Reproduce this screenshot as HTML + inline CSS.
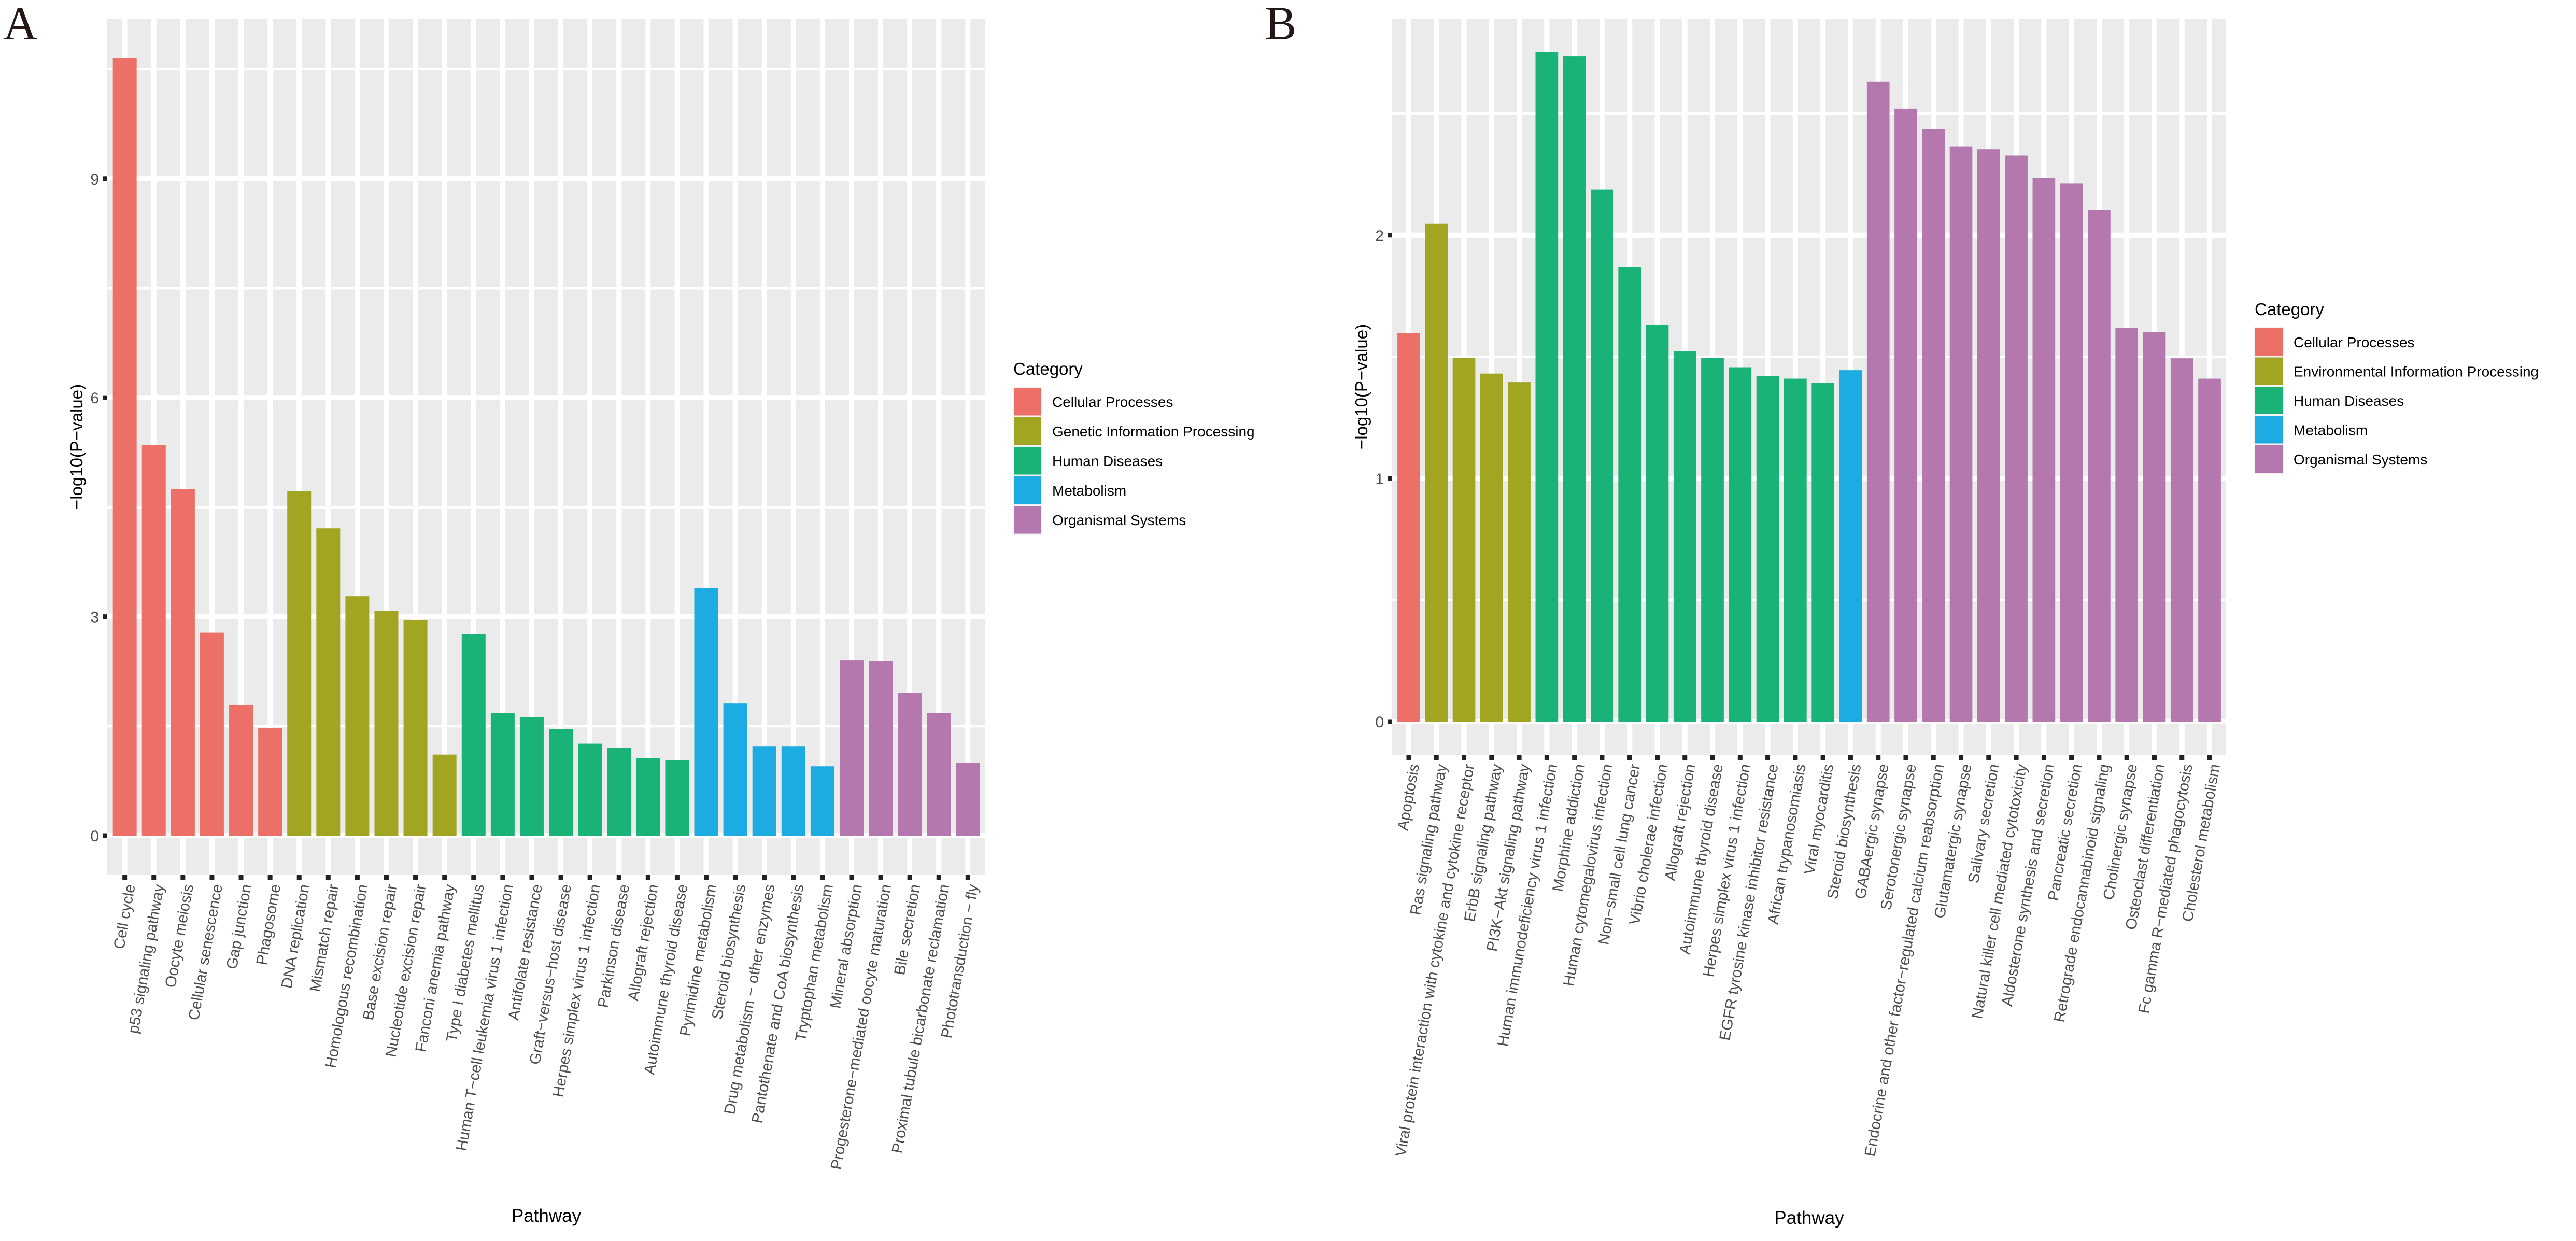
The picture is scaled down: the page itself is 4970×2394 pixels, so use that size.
<!DOCTYPE html>
<html><head><meta charset="utf-8"><style>
html,body{margin:0;padding:0;background:#fff;}
svg{display:block;font-family:"Liberation Sans",Arial,sans-serif;}
</style></head><body>
<svg id="fig" width="4970" height="2394" viewBox="0 0 4970 2394" xmlns="http://www.w3.org/2000/svg">
<rect x="0" y="0" width="4970" height="2394" fill="#fff"/>
<text x="6" y="76" font-family="Liberation Serif, serif" font-size="92" fill="#231815">A</text>
<text x="2440" y="76" font-family="Liberation Serif, serif" font-size="92" fill="#231815">B</text>
<g id="chartA"></g>
<g id="chartB"></g>
</svg>
<script>
const categoryNames = ["Cellular Processes","Genetic Information Processing","Human Diseases","Metabolism","Organismal Systems"];
const categoryNamesB = ["Cellular Processes","Environmental Information Processing","Human Diseases","Metabolism","Organismal Systems"];
const categoryColors = ["#EC7068","#A2A521","#19B277","#1DACE2","#B477AE"];

const pathwaysA = ["Cell cycle","p53 signaling pathway","Oocyte meiosis","Cellular senescence","Gap junction","Phagosome","DNA replication","Mismatch repair","Homologous recombination","Base excision repair","Nucleotide excision repair","Fanconi anemia pathway","Type I diabetes mellitus","Human T\u2212cell leukemia virus 1 infection","Antifolate resistance","Graft\u2212versus\u2212host disease","Herpes simplex virus 1 infection","Parkinson disease","Allograft rejection","Autoimmune thyroid disease","Pyrimidine metabolism","Steroid biosynthesis","Drug metabolism \u2212 other enzymes","Pantothenate and CoA biosynthesis","Tryptophan metabolism","Mineral absorption","Progesterone\u2212mediated oocyte maturation","Bile secretion","Proximal tubule bicarbonate reclamation","Phototransduction \u2212 fly"];
const valuesA = [10.66,5.35,4.75,2.78,1.79,1.47,4.72,4.21,3.28,3.08,2.95,1.11,2.76,1.68,1.62,1.46,1.26,1.20,1.06,1.03,3.39,1.81,1.22,1.22,0.95,2.40,2.39,1.96,1.68,1.00];
const catIdxA = [0,0,0,0,0,0,1,1,1,1,1,1,2,2,2,2,2,2,2,2,3,3,3,3,3,4,4,4,4,4];
const ticksA = [0,3,6,9];
const minorA = [1.5,4.5,7.5,10.5];

const pathwaysB = ["Apoptosis","Ras signaling pathway","Viral protein interaction with cytokine and cytokine receptor","ErbB signaling pathway","PI3K\u2212Akt signaling pathway","Human immunodeficiency virus 1 infection","Morphine addiction","Human cytomegalovirus infection","Non\u2212small cell lung cancer","Vibrio cholerae infection","Allograft rejection","Autoimmune thyroid disease","Herpes simplex virus 1 infection","EGFR tyrosine kinase inhibitor resistance","African trypanosomiasis","Viral myocarditis","Steroid biosynthesis","GABAergic synapse","Serotonergic synapse","Endocrine and other factor\u2212regulated calcium reabsorption","Glutamatergic synapse","Salivary secretion","Natural killer cell mediated cytotoxicity","Aldosterone synthesis and secretion","Pancreatic secretion","Retrograde endocannabinoid signaling","Cholinergic synapse","Osteoclast differentiation","Fc gamma R\u2212mediated phagocytosis","Cholesterol metabolism"];
const valuesB = [1.598,2.047,1.496,1.431,1.396,2.753,2.737,2.188,1.869,1.633,1.522,1.496,1.457,1.420,1.410,1.392,1.445,2.631,2.520,2.437,2.365,2.353,2.329,2.235,2.214,2.104,1.620,1.602,1.494,1.410];
const catIdxB = [0,1,1,1,1,2,2,2,2,2,2,2,2,2,2,2,3,4,4,4,4,4,4,4,4,4,4,4,4,4];
const ticksB = [0,1,2];
const minorB = [0.5,1.5,2.5];

const NS = "http://www.w3.org/2000/svg";
function mk(parent, tag, attrs, text){
  const e = document.createElementNS(NS, tag);
  for (const k in attrs) e.setAttribute(k, attrs[k]);
  if (text !== undefined) e.textContent = text;
  parent.appendChild(e);
  return e;
}

function drawChart(g, cfg, names, vals, cats, ticks, minor, legendNames, prefix){
  const L = cfg.left, R = cfg.right, T = cfg.top, y0 = cfg.zero, B = cfg.bottom;
  const n = names.length;
  const step = (R - L) / (n + 0.2);
  const xScale = i => L + step * (0.6 + i);
  const vmax = Math.max.apply(null, vals);
  const unit = (y0 - T) / (vmax * 1.05);
  const yScale = v => y0 - v * unit;
  const bw = step * 0.82;

  const bg = mk(g, "rect", {x:L, y:T, width:R-L, height:B-T, fill:"#EBEBEB"});
  
  

  minor.forEach(v => {
    const y = yScale(v);
    if (y < T || y > B) return;
    const l = mk(g, "rect", {x:L, y:y-2.5, width:R-L, height:5, fill:"#fff"});
    
    
  });
  ticks.forEach(v => {
    const y = yScale(v);
    const l = mk(g, "rect", {x:L, y:y-5, width:R-L, height:10, fill:"#fff"});
    
    
  });
  names.forEach((nm, i) => {
    const x = xScale(i);
    const l = mk(g, "rect", {x:x-5, y:T, width:10, height:B-T, fill:"#fff"});
    
    
  });
  vals.forEach((v, i) => {
    const x = xScale(i);
    const b = mk(g, "rect", {x:x-bw/2, y:yScale(v), width:bw, height:y0-yScale(v), fill:categoryColors[cats[i]]});
    
    
  });
  // y ticks
  ticks.forEach(v => {
    const y = yScale(v);
    const t = mk(g, "rect", {x:L-9, y:y-4.5, width:9, height:9, fill:"#222"});
    
    
    const lb = mk(g, "text", {x:L-16, y:y+11, "font-size":30, fill:"#4D4D4D", "text-anchor":"end"}, String(v));
    
    
  });
  // x ticks
  names.forEach((nm, i) => {
    const x = xScale(i);
    const t = mk(g, "rect", {x:x-4.5, y:B, width:9, height:10, fill:"#222"});
    
    
    const ax = x + 10, ay = B + 18;
    const lb = mk(g, "text", {x:0, y:0, dy:"0.35em", "font-size":29.5, fill:"#4D4D4D", "text-anchor":"end",
      transform:"translate(" + ax + "," + ay + ") rotate(-80)"}, nm);
    
    
  });
  // axis titles
  const yt = mk(g, "text", {x:0, y:0, "font-size":33, fill:"#000", "text-anchor":"middle",
    transform:"translate(" + (L-48) + "," + ((T+B)/2) + ") rotate(-90)"}, "\u2212log10(P\u2212value)");
  
  
  const xt = mk(g, "text", {x:(L+R)/2, y:cfg.xTitleY, "font-size":35, fill:"#000", "text-anchor":"middle"}, "Pathway");
  
  
  // legend
  const lg = mk(g, "g", {});
  
  
  const lt = mk(lg, "text", {x:cfg.legX-1, y:cfg.legTitleY, "font-size":33, fill:"#000"}, "Category");
  
  
  mk(lg, "rect", {x:cfg.legX-2, y:cfg.legKeyY-2, width:57, height:cfg.legStep*5+1, fill:"#F2F2F2"});
  legendNames.forEach((nm, k) => {
    const ky = cfg.legKeyY + k*cfg.legStep;
    const e = mk(lg, "g", {});
    
    
    mk(e, "rect", {x:cfg.legX, y:ky, width:53, height:cfg.legStep-3.5, fill:categoryColors[k]});
    mk(e, "text", {x:cfg.legX+74, y:ky+37, "font-size":28, fill:"#000"}, nm);
  });
}

drawChart(document.getElementById("chartA"),
  {left:207, right:1901, top:36, zero:1612, bottom:1688, xTitleY:2357, legX:1956, legTitleY:723, legKeyY:748, legStep:57},
  pathwaysA, valuesA, catIdxA, ticksA, minorA, categoryNames, "a");
drawChart(document.getElementById("chartB"),
  {left:2686, right:4295, top:36, zero:1392, bottom:1456, xTitleY:2361, legX:4351, legTitleY:608, legKeyY:633, legStep:56.5},
  pathwaysB, valuesB, catIdxB, ticksB, minorB, categoryNamesB, "b");
</script>
</body></html>
